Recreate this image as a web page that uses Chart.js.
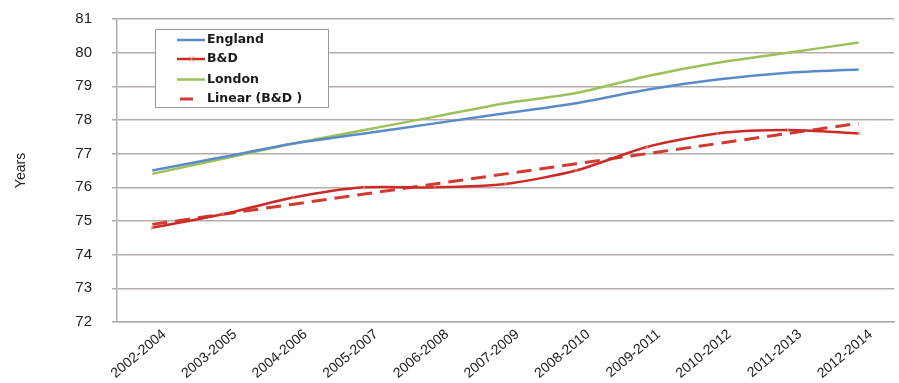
<!DOCTYPE html>
<html>
<head>
<meta charset="utf-8">
<script src="https://cdn.jsdelivr.net/npm/chart.js@4"></script>
<style>
html,body{margin:0;padding:0;background:#fff;}
#wrap{width:899px;height:383px;position:relative;}
</style>
</head>
<body>
<div id="wrap"><canvas id="c" width="899" height="383"></canvas></div>
<script>
const categories = ["2002-2004","2003-2005","2004-2006","2005-2007","2006-2008","2007-2009","2008-2010","2009-2011","2010-2012","2011-2013","2012-2014"];
const england = [76.5, 76.9, 77.3, 77.6, 77.9, 78.2, 78.5, 78.9, 79.2, 79.4, 79.5];
const bd      = [74.8, 75.2, 75.7, 76.0, 76.0, 76.1, 76.5, 77.2, 77.6, 77.7, 77.6];
const london  = [76.4, 76.85, 77.3, 77.7, 78.1, 78.5, 78.8, 79.3, 79.7, 80.0, 80.3];
const linearBD = [74.9, 75.2, 75.5, 75.8, 76.1, 76.4, 76.7, 77.0, 77.3, 77.6, 77.9];
const yTicks = [72,73,74,75,76,77,78,79,80,81];

const insideLegend = {
  id: 'insideLegend',
  afterDraw(chart) {
    const ctx = chart.ctx;
    const x0 = 155, y0 = 29, w = 173, h = 78;
    ctx.save();
    ctx.fillStyle = '#fff';
    ctx.fillRect(x0, y0, w, h);
    ctx.strokeStyle = '#9a9a9a';
    ctx.lineWidth = 1;
    ctx.strokeRect(x0 + 0.5, y0 + 0.5, w, h);
    const rows = [40, 59, 79.5, 99];
    chart.data.datasets.forEach((ds, i) => {
      const y = rows[i];
      ctx.strokeStyle = ds.borderColor;
      ctx.lineWidth = ds.borderWidth;
      ctx.beginPath();
      if (ds.borderDash && ds.borderDash.length) {
        ctx.moveTo(180, y); ctx.lineTo(193, y);
      } else {
        ctx.moveTo(177, y); ctx.lineTo(205, y);
      }
      ctx.stroke();
      if (ds.pointRadius > 0) {
        ctx.strokeStyle = ds.pointBorderColor;
        ctx.lineWidth = 1;
        ctx.beginPath();
        ctx.moveTo(189, y - 2.5); ctx.lineTo(194, y + 2.5);
        ctx.moveTo(194, y - 2.5); ctx.lineTo(189, y + 2.5);
        ctx.stroke();
      }
      ctx.fillStyle = '#1a1a1a';
      ctx.font = '600 12.5px "DejaVu Sans"';
      ctx.textBaseline = 'middle';
      ctx.textAlign = 'left';
      ctx.fillText(ds.label, 207, y);
    });
    ctx.restore();
  }
};

new Chart(document.getElementById('c'), {
  type: 'line',
  data: {
    labels: categories,
    datasets: [
      { label: 'England', data: england, borderColor: '#5a8bc9', borderWidth: 2.5, pointRadius: 0, tension: 0.25, fill: false },
      { label: 'B&D', data: bd, borderColor: '#cc2a24', borderWidth: 2.5, pointRadius: 2.5, pointStyle: 'crossRot', pointBorderColor: '#e08078', pointBorderWidth: 1, tension: 0.25, fill: false },
      { label: 'London', data: london, borderColor: '#9cc15a', borderWidth: 2.5, pointRadius: 0, tension: 0.25, fill: false },
      { label: 'Linear (B&D )', data: linearBD, borderColor: '#d03a30', borderWidth: 3, borderDash: [15, 8], pointRadius: 0, tension: 0, fill: false }
    ]
  },
  options: {
    responsive: false,
    animation: false,
    devicePixelRatio: 1,
    layout: { padding: { top: 19, right: 2, left: 0, bottom: 0 } },
    plugins: { legend: { display: false }, tooltip: { enabled: false } },
    scales: {
      x: {
        offset: true,
        grid: { display: false, drawTicks: false },
        border: { display: true, color: '#b2aca9', width: 1.5 },
        ticks: { color: '#222', font: { family: '"Liberation Sans", Arial', size: 14 }, maxRotation: 40, minRotation: 40, padding: 4, labelOffset: 12, autoSkip: false },
        afterFit(s) { s.height = 61; }
      },
      y: {
        min: 72, max: 81,
        afterBuildTicks(s) { s.ticks = yTicks.map(v => ({ value: v })); },
        grid: { color: '#b2aca9', lineWidth: 1.5, drawTicks: true, tickLength: 5 },
        border: { display: true, color: '#b2aca9', width: 1.5 },
        ticks: { color: '#222', font: { family: '"Liberation Sans", Arial', size: 15 }, padding: 20 },
        title: { display: true, text: 'Years', color: '#222', font: { family: '"Liberation Sans", Arial', size: 14 }, padding: { top: 13, bottom: 0 } },
        afterFit(s) { s.width = 117; s.paddingTop = 9; s.paddingBottom = 9; }
      }
    }
  },
  plugins: [insideLegend]
});
</script>
</body>
</html>
